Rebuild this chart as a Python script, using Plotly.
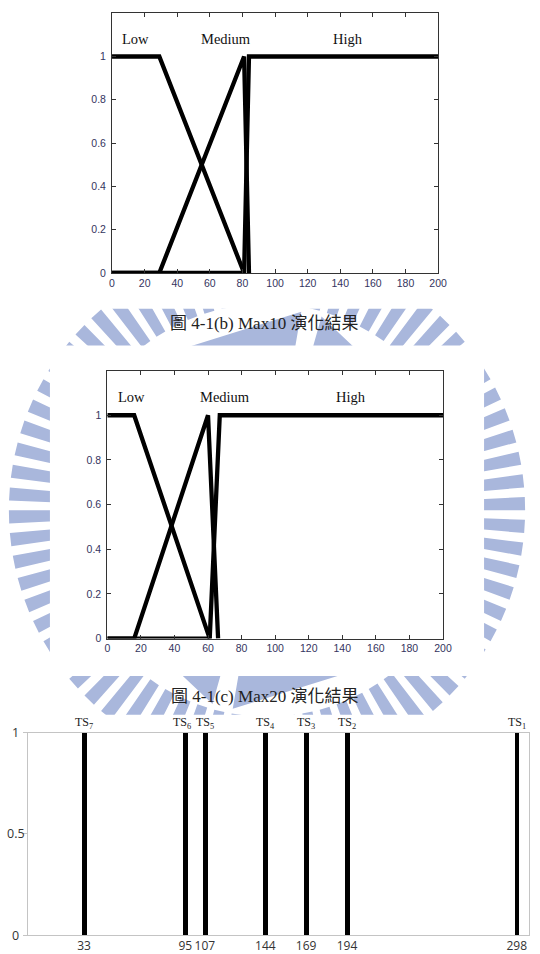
import math
import plotly.graph_objects as go

W, H = 540, 954

# ---------------- data ----------------
# Max10 membership functions (x breakpoints, membership values)
max10_low_x = [0, 29, 81]
max10_low_y = [1, 1, 0]
max10_med_x = [0, 29, 81, 84]
max10_med_y = [0, 0, 1, 0]
max10_high_x = [0, 81, 84, 200]
max10_high_y = [0, 0, 1, 1]

# Max20 membership functions
max20_low_x = [0, 16, 61]
max20_low_y = [1, 1, 0]
max20_med_x = [0, 16, 60, 66]
max20_med_y = [0, 0, 1, 0]
max20_high_x = [0, 61, 67, 200]
max20_high_y = [0, 0, 1, 1]

mf_labels = ["Low", "Medium", "High"]
mf_label_x = [5, 70, 145]
mf_label_y = 1.08

mf_xticks = [0, 20, 40, 60, 80, 100, 120, 140, 160, 180, 200]
mf_yticks = [0, 0.2, 0.4, 0.6, 0.8, 1]
mf_yticktext = ["0", "0.2", "0.4", "0.6", "0.8", "1"]

# threshold sets
ts_pos = [33, 95, 107, 144, 169, 194, 298]
ts_index = [7, 6, 5, 4, 3, 2, 1]
ts_height = [1, 1, 1, 1, 1, 1, 1]
ts_yticks = [0, 0.5, 1]
ts_yticktext = ["0", "0.5", "1"]

captions = ["圖 4-1(b) Max10 演化結果", "圖 4-1(c) Max20 演化結果"]

# ---------------- helpers ----------------
def px(x):
    return x / W


def py(y):
    return 1 - y / H


fig = go.Figure()

line_style = dict(color="black", width=4.3)
for xs, ys in [(max10_low_x, max10_low_y), (max10_med_x, max10_med_y), (max10_high_x, max10_high_y)]:
    fig.add_trace(go.Scatter(x=xs, y=ys, mode="lines", line=line_style, xaxis="x", yaxis="y",
                             showlegend=False, hoverinfo="skip"))
for xs, ys in [(max20_low_x, max20_low_y), (max20_med_x, max20_med_y), (max20_high_x, max20_high_y)]:
    fig.add_trace(go.Scatter(x=xs, y=ys, mode="lines", line=line_style, xaxis="x2", yaxis="y2",
                             showlegend=False, hoverinfo="skip"))

fig.add_trace(go.Bar(x=ts_pos, y=ts_height, width=2.9, marker=dict(color="black", line=dict(width=0)),
                     xaxis="x3", yaxis="y3", showlegend=False, hoverinfo="skip"))

tick_font = dict(family="Liberation Sans, Arial", size=10.5, color="#34345e")
frame = dict(showline=True, linecolor="#333333", linewidth=1, mirror="ticks", ticks="inside",
             ticklen=4, tickcolor="#333333", showgrid=False, zeroline=False, tickfont=tick_font,
             tickangle=0)

fig.update_layout(
    width=W, height=H, autosize=False,
    margin=dict(l=0, r=0, t=0, b=0),
    paper_bgcolor="white", plot_bgcolor="rgba(0,0,0,0)",
    xaxis=dict(domain=[px(111.5), px(445)], anchor="y", range=[0, 200], tickvals=mf_xticks, **frame),
    yaxis=dict(domain=[py(275), py(13.3)], anchor="x", range=[0, 1.2], tickvals=mf_yticks,
               ticktext=mf_yticktext, ticklabelstandoff=3, **frame),
    xaxis2=dict(domain=[px(106.7), px(450)], anchor="y2", range=[0, 200], tickvals=mf_xticks, **frame),
    yaxis2=dict(domain=[py(643.3), py(373.3)], anchor="x2", range=[0, 1.2], tickvals=mf_yticks,
                ticktext=mf_yticktext, ticklabelstandoff=3, **frame),
    xaxis3=dict(domain=[px(25.3), px(538)], anchor="y3", range=[-1.5, 305.5], tickvals=ts_pos,
                ticktext=[str(v) for v in ts_pos], ticks="", showline=True, mirror=True,
                linecolor="#c4c4c4", linewidth=1, showgrid=False, zeroline=False, tickangle=0,
                tickfont=dict(family="Open Sans, Noto Sans", size=12, color="#333333")),
    yaxis3=dict(domain=[py(942), py(738)], anchor="x3", range=[0, 1], tickvals=ts_yticks,
                showticklabels=False, ticks="outside", ticklen=4, tickcolor="#c4c4c4",
                showline=True, mirror=True, linecolor="#c4c4c4", linewidth=1,
                showgrid=False, zeroline=False),
    bargap=0,
)

# ---------------- watermark (decorative background) ----------------
wm_color = "#a9b7dc"
cx, cy = 270, 514


def pt(r, a):
    return px(cx + r * math.cos(a)), py(cy - r * math.sin(a))


def wedge(r1, r2, a1, a2, twist=0.0):
    p = [pt(r1, a1), pt(r2, a1 + twist), pt(r2, a2 + twist), pt(r1, a2)]
    return "M{:.5f},{:.5f} L{:.5f},{:.5f} L{:.5f},{:.5f} L{:.5f},{:.5f} Z".format(
        p[0][0], p[0][1], p[1][0], p[1][1], p[2][0], p[2][1], p[3][0], p[3][1])


stripes = []
n = 72
for i in range(n):
    a = 2 * math.pi * i / n
    stripes.append(wedge(208, 264, a, a + 2 * math.pi / n * 0.58))
inner = []
m = 6
for i in range(m):
    a = 2 * math.pi * i / m + 0.35
    inner.append(wedge(140, 203, a, a + 2 * math.pi / m * 0.9))

shapes = [
    dict(type="path", xref="paper", yref="paper", path=" ".join(stripes), fillcolor=wm_color,
         line=dict(width=0), layer="below"),
    dict(type="path", xref="paper", yref="paper", path=" ".join(inner), fillcolor=wm_color,
         line=dict(width=0), layer="below"),
]
# white boxes of the pasted chart images
for x0, y0, x1, y1 in [(0, 0, 540, 311), (48, 348, 492, 681), (0, 720, 540, 954)]:
    shapes.append(dict(type="rect", xref="paper", yref="paper", x0=px(x0), x1=px(x1),
                       y0=py(y1), y1=py(y0), fillcolor="white", line=dict(width=0), layer="below"))
fig.update_layout(shapes=shapes)

# ---------------- annotations ----------------
ann = []
serif = "Liberation Serif, Times New Roman, serif"
for xr, yr in [("x", "y"), ("x2", "y2")]:
    for lab, lx in zip(mf_labels, mf_label_x):
        ann.append(dict(x=lx, y=mf_label_y, xref=xr, yref=yr, text=lab, showarrow=False,
                        xanchor="left" if lab == "Low" else "center", yanchor="middle",
                        font=dict(family=serif, size=14.5, color="#111111")))

cap_y = [326, 702]
for txt, cy_ in zip(captions, cap_y):
    ann.append(dict(x=0.495, y=py(cy_), xref="paper", yref="paper", text=txt, showarrow=False,
                    xanchor="center", yanchor="middle",
                    font=dict(family="Liberation Serif, Noto Sans CJK TC", size=17, color="#222222")))

for pos, idx in zip(ts_pos, ts_index):
    ann.append(dict(x=pos, y=1, xref="x3", yref="y3", text="TS<sub>%d</sub>" % idx, showarrow=False,
                    xanchor="center", yanchor="bottom", yshift=0, xshift=-3 if idx == 6 else 0,
                    font=dict(family=serif, size=12, color="#222222")))

for v, t in zip(ts_yticks, ts_yticktext):
    ann.append(dict(x=px(13), y=v, xref="paper", yref="y3", text=t, showarrow=False,
                    xanchor="center", yanchor="middle",
                    font=dict(family="Open Sans, Noto Sans", size=12.5, color="#333333")))

fig.update_layout(annotations=ann)

fig.write_html("out.html")
